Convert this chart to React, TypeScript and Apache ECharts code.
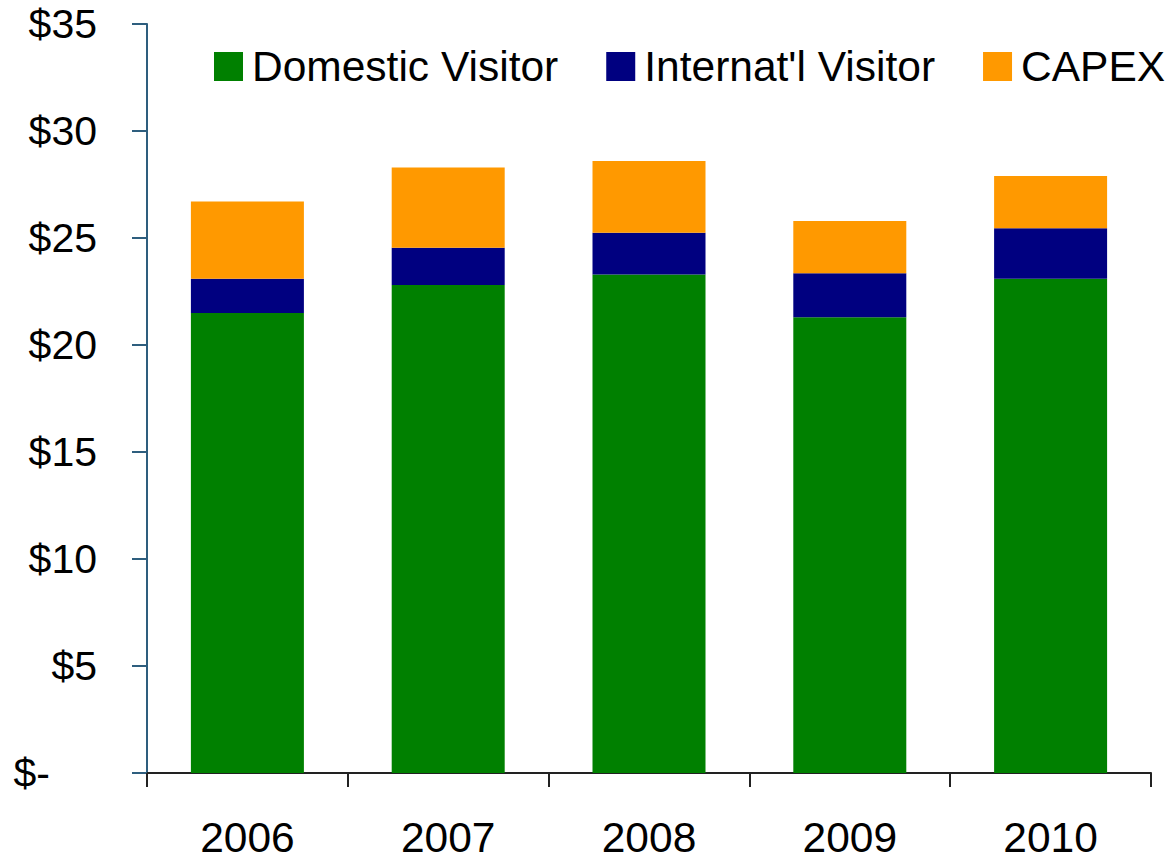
import React, { useEffect, useRef } from "react";
import * as echarts from "echarts";

const years = ["2006", "2007", "2008", "2009", "2010"];
const domestic = [21.5, 22.8, 23.3, 21.3, 23.1];
const internat = [1.6, 1.75, 1.95, 2.05, 2.35];
const capex = [3.6, 3.75, 3.35, 2.45, 2.45];
const seriesNames = ["Domestic Visitor", "Internat'l Visitor", "CAPEX"];
const colors = ["#008000", "#000080", "#FF9900"];

const FONT = "'Liberation Sans', Arial, sans-serif";

export default function App() {
  const ref = useRef<HTMLDivElement>(null);
  useEffect(() => {
    if (!ref.current) return;
    const chart = echarts.init(ref.current, undefined, { renderer: "svg" });
    const data = [domestic, internat, capex];
    chart.setOption({
      animation: false,
      backgroundColor: "#ffffff",
      textStyle: { fontFamily: FONT },
      legend: {
        left: 214,
        top: 45,
        padding: 0,
        itemWidth: 29,
        itemHeight: 29,
        itemGap: 48,
        icon: "rect",
        selectedMode: false,
        textStyle: { fontSize: 42.5, color: "#000", fontFamily: FONT, padding: [0, 0, 0, 4] },
        data: seriesNames,
      },
      grid: { left: 147, right: 19, top: 24, bottom: 86, containLabel: false },
      xAxis: {
        type: "category",
        data: years,
        boundaryGap: true,
        axisLine: { show: true, lineStyle: { color: "#222", width: 2 } },
        axisTick: { show: true, length: 14, alignWithLabel: false, lineStyle: { color: "#222", width: 2 } },
        axisLabel: { fontSize: 42.5, lineHeight: 34, color: "#000", margin: 47, fontFamily: FONT },
      },
      yAxis: {
        type: "value",
        min: 0,
        max: 35,
        interval: 5,
        splitLine: { show: false },
        axisLine: { show: true, lineStyle: { color: "#2E5E7E", width: 2 } },
        axisTick: { show: true, length: 15, lineStyle: { color: "#2E5E7E", width: 2 } },
        axisLabel: {
          fontSize: 41,
          color: "#000",
          margin: 50,
          fontFamily: FONT,
          formatter: (v: number) => (v === 0 ? "{z|$-}" : "$" + v),
          rich: { z: { fontSize: 41, color: "#000", fontFamily: FONT, padding: [0, 47, 0, 0] } },
        },
      },
      series: seriesNames.map((name, i) => ({
        name,
        type: "bar",
        stack: "total",
        barWidth: 113,
        itemStyle: { color: colors[i] },
        data: data[i],
      })),
    });
    return () => chart.dispose();
  }, []);
  return (
    <div
      ref={ref}
      style={{ position: "fixed", left: 0, top: 0, width: 1170, height: 859 }}
    />
  );
}
